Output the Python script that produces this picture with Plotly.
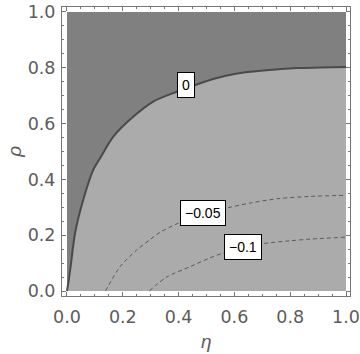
import plotly.graph_objects as go

# Contour level 0 (solid), separating dark (upper-left) and light regions
eta_0 = [0.000, 0.005, 0.013, 0.029, 0.058, 0.094, 0.118, 0.166, 0.238, 0.309,
         0.393, 0.459, 0.524, 0.600, 0.704, 0.824, 0.907, 1.000]
rho_0 = [0.000, 0.030, 0.087, 0.208, 0.326, 0.434, 0.475, 0.553, 0.625, 0.679,
         0.714, 0.738, 0.760, 0.778, 0.790, 0.799, 0.801, 0.803]

# Contour level -0.05 (dashed)
eta_m05 = [0.138, 0.190, 0.250, 0.300, 0.333, 0.399, 0.486, 0.575, 0.660, 0.757, 0.870, 1.000]
rho_m05 = [0.000, 0.087, 0.147, 0.186, 0.210, 0.243, 0.275, 0.298, 0.316, 0.331, 0.339, 0.343]

# Contour level -0.1 (dashed)
eta_m10 = [0.295, 0.357, 0.441, 0.513, 0.560, 0.630, 0.704, 0.800, 0.871, 1.000]
rho_m10 = [0.000, 0.050, 0.087, 0.119, 0.136, 0.155, 0.170, 0.180, 0.186, 0.193]

# Contour labels: text, eta, rho
label_text = ["0", "\u22120.05", "\u22120.1"]
label_eta = [0.4265, 0.486, 0.631]
label_rho = [0.738, 0.281, 0.159]

tick_vals = [0.0, 0.2, 0.4, 0.6, 0.8, 1.0]
tick_text = ["0.0", "0.2", "0.4", "0.6", "0.8", "1.0"]

DARK = "#808080"
LIGHT = "#ababab"
LINE = "#4a4a4a"
AXIS = "#777777"
TXT = "#5c5c5c"

fig = go.Figure()

# light background region over the data domain
fig.add_shape(type="rect", xref="x", yref="y", x0=0, x1=1, y0=0, y1=1,
              fillcolor=LIGHT, line=dict(width=0), layer="below")

# dark region: between rho=1 and the zero contour
fig.add_trace(go.Scatter(x=eta_0, y=[1.0] * len(eta_0), mode="lines",
                         line=dict(width=0, color=DARK), hoverinfo="skip",
                         showlegend=False))
fig.add_trace(go.Scatter(x=eta_0, y=rho_0, mode="lines", fill="tonexty",
                         fillcolor=DARK, line=dict(width=2, color=LINE, shape="spline", smoothing=0.8),
                         showlegend=False))

fig.add_trace(go.Scatter(x=eta_m05, y=rho_m05, mode="lines",
                         line=dict(width=1, color="#5a5a5a", dash="4px,3px", shape="spline", smoothing=0.8),
                         showlegend=False))
fig.add_trace(go.Scatter(x=eta_m10, y=rho_m10, mode="lines",
                         line=dict(width=1, color="#5a5a5a", dash="4px,3px", shape="spline", smoothing=0.8),
                         showlegend=False))

for t, xe, yr in zip(label_text, label_eta, label_rho):
    fig.add_annotation(x=xe, y=yr, xref="x", yref="y", text=t, showarrow=False,
                       font=dict(family="Liberation Sans, Arial, sans-serif", size=14, color="black"),
                       bgcolor="white", bordercolor="black", borderwidth=1, borderpad=4)

axis_common = dict(
    showgrid=False, zeroline=False, showline=True, linecolor=AXIS, linewidth=1,
    mirror="allticks", ticks="inside", ticklen=4, tickcolor=AXIS, tickwidth=1,
    tickvals=tick_vals, ticktext=tick_text, automargin=False,
    ticklabeloverflow="allow",
    tickfont=dict(family="DejaVu Sans, sans-serif", size=17.5, color=TXT),
    minor=dict(dtick=0.05, tick0=0, ticks="inside", ticklen=2, tickcolor=AXIS, tickwidth=1),
)

fig.update_xaxes(range=[-0.0179, 1.0143], ticklabelstandoff=5, **axis_common)
fig.update_yaxes(range=[-0.0179, 1.0179], ticklabelstandoff=2, **axis_common)

title_font = dict(family="Liberation Sans, Arial, sans-serif", size=19, color=TXT, style="italic")
fig.add_annotation(text="\u03b7", xref="paper", yref="paper", x=0.5, y=0,
                   xanchor="center", yanchor="top", showarrow=False, font=title_font,
                   yshift=-33)
fig.add_annotation(text="\u03c1", xref="paper", yref="paper", x=-0.166, y=0.5,
                   xanchor="center", yanchor="middle", showarrow=False, font=title_font,
                   textangle=-90)

fig.update_layout(
    width=360, height=354,
    margin=dict(l=62, r=10, t=7, b=58),
    plot_bgcolor="white", paper_bgcolor="white",
    showlegend=False,
)

fig.write_html("out.html", post_script="document.body.style.margin='0';",
               config={"displayModeBar": False})
